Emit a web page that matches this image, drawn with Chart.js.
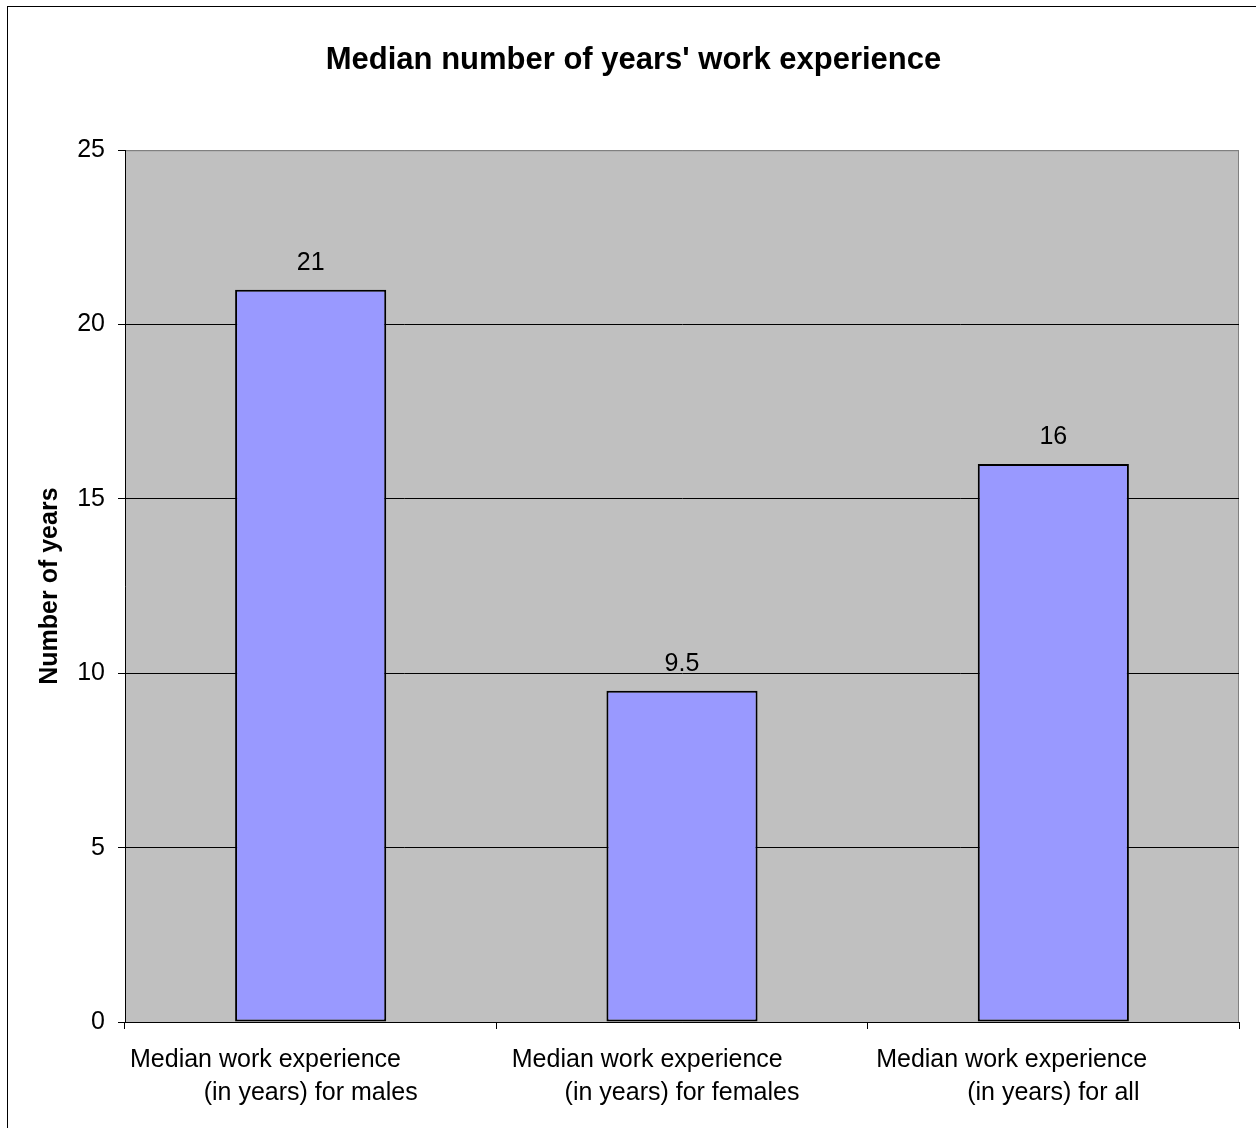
<!DOCTYPE html>
<html>
<head>
<meta charset="utf-8">
<title>Median work experience</title>
<script src="https://cdn.jsdelivr.net/npm/chart.js@4.4.0/dist/chart.umd.min.js"></script>
<style>
  html, body { margin: 0; padding: 0; background: #fff; overflow: hidden; }
  #wrap { position: relative; width: 1256px; height: 1128px; }
</style>
</head>
<body>
<div id="wrap"><canvas id="columnChart" width="1256" height="1128"></canvas></div>
<script>
// Dữ liệu biểu đồ
const categories = [
	['Median work experience', '(in years) for males'],
	['Median work experience', '(in years) for females'],
	['Median work experience', '(in years) for all']
];
const medianYears = [21, 9.5, 16];
const yTicks = [0, 5, 10, 15, 20, 25];

const FONT = "'Liberation Sans', Arial, sans-serif";

// Nền xám cho vùng vẽ + khung ngoài của biểu đồ
const plotBackground = {
	id: 'plotBackground',
	beforeDraw(chart) {
		const { ctx, chartArea: a } = chart;
		ctx.save();
		ctx.fillStyle = '#ffffff';
		ctx.fillRect(0, 0, chart.width, chart.height);
		ctx.strokeStyle = '#000';
		ctx.lineWidth = 1;
		ctx.strokeRect(7.5, 6.5, chart.width + 20, chart.height + 20);
		ctx.fillStyle = '#c0c0c0';
		ctx.fillRect(a.left, a.top, a.right - a.left, a.bottom - a.top);
		ctx.strokeStyle = '#808080';
		ctx.strokeRect(a.left + 0.5, a.top + 0.5, a.right - a.left - 1, a.bottom - a.top);
		ctx.restore();
	}
};

// Ghi giá trị phía trên mỗi cột
const valueLabels = {
	id: 'valueLabels',
	afterDatasetsDraw(chart) {
		const { ctx } = chart;
		const meta = chart.getDatasetMeta(0);
		ctx.save();
		ctx.font = '25px ' + FONT;
		ctx.fillStyle = '#000';
		ctx.textAlign = 'center';
		ctx.textBaseline = 'middle';
		meta.data.forEach((bar, i) => {
			ctx.fillText(String(medianYears[i]), bar.x, bar.y - 27);
		});
		ctx.restore();
	}
};

// số khoảng trắng thêm vào dòng đầu của nhãn trục x
const firstLinePad = [13, 10, 12];

const ctx = document.getElementById('columnChart').getContext('2d');
const columnChart = new Chart(ctx, {
	type: 'bar',
	data: {
		labels: categories,
		datasets: [{
			data: medianYears,
			backgroundColor: '#9999ff',
			borderColor: '#000',
			borderWidth: 2,
			borderSkipped: false,
			categoryPercentage: 1,
			barPercentage: 0.407
		}]
	},
	options: {
		responsive: false,
		animation: false,
		layout: { padding: { top: 0, left: 28, right: 17, bottom: 0 } },
		plugins: {
			legend: { display: false },
			tooltip: { enabled: false },
			title: {
				display: true,
				text: "Median number of years' work experience",
				color: '#000',
				font: { family: FONT, size: 31, weight: 'bold', lineHeight: 1.2 },
				padding: { top: 42, bottom: 71 }
			}
		},
		scales: {
			x: {
				offset: true,
				grid: {
					offset: true,
					drawOnChartArea: false,
					drawTicks: true,
					tickLength: 7,
					color: '#000',
					tickColor: '#000'
				},
				border: { color: '#000', width: 1 },
				ticks: {
					color: '#000',
					padding: 15,
					maxRotation: 0,
					autoSkip: false,
					font: { family: FONT, size: 25, lineHeight: 1.32 },
					callback: function(value, index) {
						const lines = categories[index];
						// dòng đầu lệch sang trái một chút
						return [lines[0] + ' '.repeat(firstLinePad[index]), lines[1]];
					}
				},
				afterFit: function(scale) { scale.height = 106; }
			},
			y: {
				min: 0,
				max: 25,
				afterBuildTicks: function(scale) {
					scale.ticks = yTicks.map(v => ({ value: v }));
				},
				grid: {
					color: c => (c.tick && c.tick.value === 25) ? '#808080' : '#000',
					tickColor: '#000',
					tickLength: 7,
					lineWidth: 1
				},
				border: { color: '#000', width: 1 },
				ticks: {
					color: '#000',
					padding: 13,
					font: { family: FONT, size: 25 }
				},
				title: {
					display: true,
					text: 'Number of years',
					color: '#000',
					font: { family: FONT, size: 25, weight: 'bold', lineHeight: 1.2 },
					padding: { top: 7, bottom: 0 }
				},
				afterFit: function(scale) { scale.width = 97; }
			}
		}
	},
	plugins: [plotBackground, valueLabels]
});
</script>
</body>
</html>
